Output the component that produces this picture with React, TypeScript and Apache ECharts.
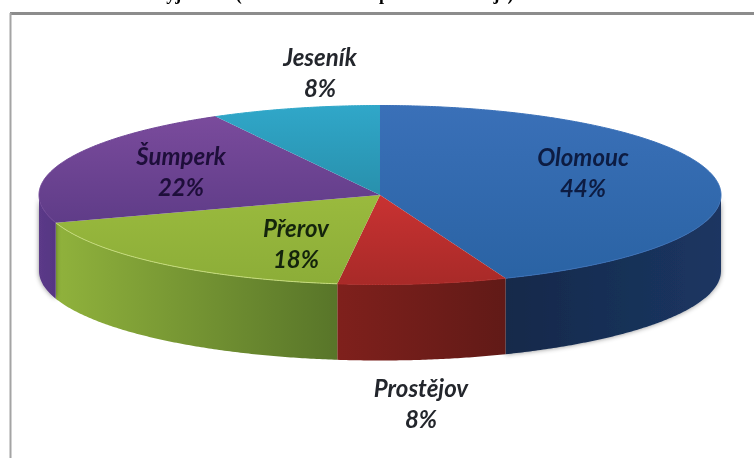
import React, { useEffect, useRef } from "react";
import * as echarts from "echarts";

const districts = ["Olomouc", "Prostějov", "Přerov", "Šumperk", "Jeseník"];
const shares = [44, 8, 18, 22, 8];
const topStops = [
  ["#3a70b8", "#2a63a4"],
  ["#c93232", "#a82a28"],
  ["#9aba3e", "#8cad38"],
  ["#7a4b9c", "#5f3c88"],
  ["#30a7c9", "#2890ac"],
];
const wallStops = [
  ["#15294a", "#1b3662"],
  ["#7f201c", "#611a17"],
  ["#90b23c", "#587529"],
  ["#5b3a88", "#563583"],
  ["#1f6f88", "#1f6f88"],
];
const rimColors = ["#3a70b8", "#b02c2a", "#c6dc7c", "#6f4596", "#30a7c9"];
const labelColors = ["#0d1c42", "#23262c", "#14240c", "#1e0e3a", "#23262c"];
const labelAnchors = [
  [583, 172],
  [421, 403],
  [296, 243],
  [181, 171],
  [320, 72],
];

const CX = 380;
const CY = 195;
const RX = 341;
const RY = 89.5;
const DEPTH = 76;

const pt = (deg: number, dy = 0) => {
  const a = (deg * Math.PI) / 180;
  return [CX + RX * Math.sin(a), CY - RY * Math.cos(a) + dy];
};

const arc = (from: number, to: number, dy = 0) => {
  const out: number[][] = [];
  const n = Math.max(2, Math.ceil(Math.abs(to - from) * 2));
  for (let i = 0; i <= n; i++) out.push(pt(from + ((to - from) * i) / n, dy));
  return out;
};

const grad = (c: string[], vertical = false) =>
  new echarts.graphic.LinearGradient(0, 0, vertical ? 0 : 1, vertical ? 1 : 0, [
    { offset: 0, color: c[0] },
    { offset: 1, color: c[1] },
  ]);

const total = shares.reduce((s, v) => s + v, 0);

const renderItem = (params: any, api: any) => {
  const i = params.dataIndex;
  const before = shares.slice(0, i).reduce((s, v) => s + v, 0);
  const start = (before / total) * 360;
  const end = ((before + api.value(0)) / total) * 360;
  const children: any[] = [];
  const wFrom = Math.max(start, 90);
  const wTo = Math.min(end, 270);
  if (wTo > wFrom) {
    children.push({
      type: "polygon",
      z2: 1,
      shape: { points: [...arc(wFrom, wTo), ...arc(wTo, wFrom, DEPTH)] },
      style: {
        fill: grad(wallStops[i]),
        stroke: "none",
        shadowBlur: i === 0 || i === 3 ? 5 : 0,
        shadowColor: "rgba(0,0,0,0.45)",
      },
    });
  }
  children.push({
    type: "polygon",
    z2: 2,
    shape: { points: [[CX, CY], ...arc(start, end)] },
    style: { fill: grad(topStops[i], true), stroke: "none" },
  });
  children.push({
    type: "polyline",
    z2: 3,
    shape: { points: arc(start, end) },
    style: { fill: "none", stroke: rimColors[i], lineWidth: 1 },
  });
  children.push({
    type: "text",
    z2: 10,
    x: labelAnchors[i][0],
    y: labelAnchors[i][1],
    style: {
      text: `${districts[i]}\n${api.value(0)}%`,
      fontFamily: "Lato",
      fontStyle: "italic",
      fontWeight: "bold",
      fontSize: 24,
      lineHeight: 31,
      fill: labelColors[i],
      align: "center",
      verticalAlign: "middle",
    },
  });
  return { type: "group", children };
};

export default function App() {
  const ref = useRef<HTMLDivElement>(null);
  useEffect(() => {
    const chart = echarts.init(ref.current!, null, { renderer: "svg" });
    chart.setOption({
      animation: false,
      backgroundColor: "#ffffff",
      graphic: [
        {
          type: "text",
          x: 155,
          y: -15,
          style: {
            text: "Vyjádření (obce s rozšířenou působností kraje)",
            fontFamily: "Liberation Serif",
            fontWeight: "bold",
            fontSize: 18,
            fill: "#000",
          },
        },
        { type: "line", shape: { x1: 10, y1: 13.5, x2: 754, y2: 13.5 }, style: { stroke: "#8c8c8c", lineWidth: 3 } },
        { type: "line", shape: { x1: 10.5, y1: 13, x2: 10.5, y2: 458 }, style: { stroke: "#a4a4a4", lineWidth: 2 } },
      ],
      series: [
        {
          type: "custom",
          coordinateSystem: "none",
          renderItem,
          data: districts.map((name, i) => ({ name, value: [shares[i]] })),
        },
      ],
    });
    return () => chart.dispose();
  }, []);
  return (
    <div
      ref={ref}
      style={{ position: "absolute", left: 0, top: 0, width: 754, height: 458, filter: "blur(0.5px)" }}
    />
  );
}
